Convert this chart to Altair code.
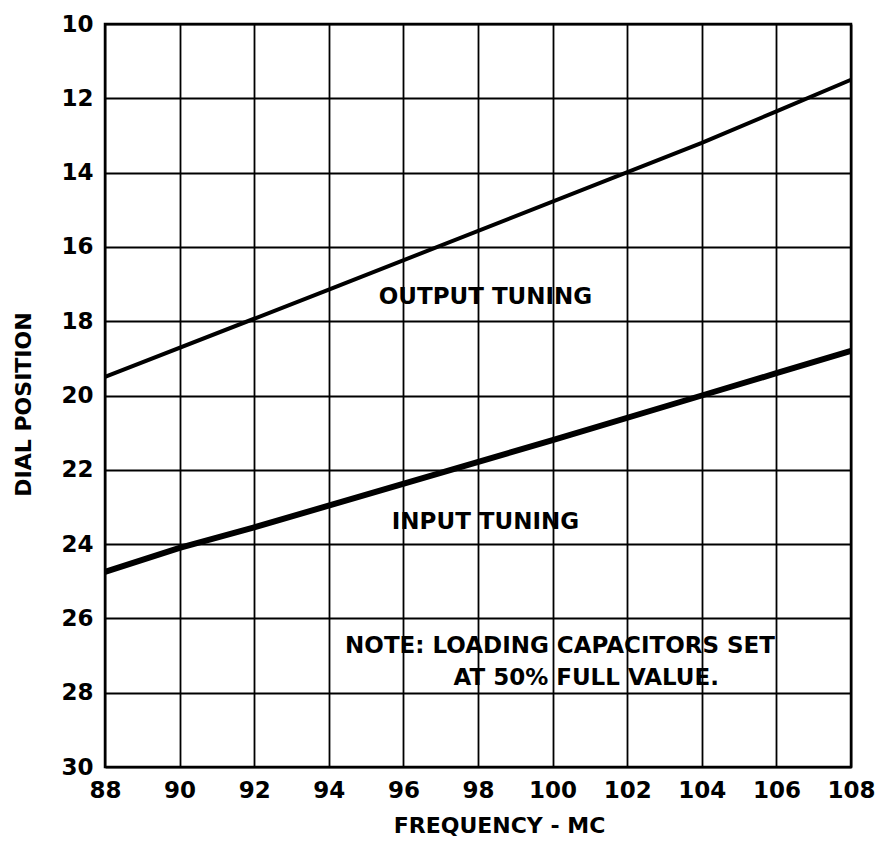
import altair as alt
import pandas as pd

# Axis ticks
freq_ticks = list(range(88, 109, 2))
dial_ticks = list(range(10, 31, 2))

# Curves
output_freq = [88, 94, 104, 106, 108]
output_dial = [19.5, 17.15, 13.2, 12.35, 11.5]

input_freq = [88, 90, 92, 100, 104, 106, 108]
input_dial = [24.75, 24.1, 23.55, 21.2, 20.0, 19.4, 18.8]

# Annotations
label_text = ["OUTPUT TUNING", "INPUT TUNING",
              "NOTE: LOADING CAPACITORS SET", "AT 50% FULL VALUE."]
label_freq = [98.2, 98.2, 100.2, 100.9]
label_dial = [17.35, 23.4, 26.75, 27.6]

FONT = "DejaVu Sans"

df_out = pd.DataFrame({"freq": output_freq, "dial": output_dial})
df_in = pd.DataFrame({"freq": input_freq, "dial": input_dial})
df_txt = pd.DataFrame({"freq": label_freq, "dial": label_dial, "txt": label_text})

xscale = alt.Scale(domain=[88, 108], nice=False, zero=False)
yscale = alt.Scale(domain=[10, 30], reverse=True, nice=False, zero=False)

x_enc = alt.X("freq:Q", scale=xscale,
              axis=alt.Axis(values=freq_ticks, title="FREQUENCY - MC",
                            labelFlush=False, labelOverlap=False,
                            titleX=394, titleY=58, titleAlign="center",
                            titleBaseline="middle"))
y_enc = alt.Y("dial:Q", scale=yscale,
              axis=alt.Axis(values=dial_ticks, title="DIAL POSITION",
                            labelOverlap=False,
                            titleX=-82, titleY=380, titleAlign="center",
                            titleBaseline="middle", titleAngle=270))

out_line = alt.Chart(df_out).mark_line(color="black", strokeWidth=4).encode(
    x=x_enc, y=y_enc, order="freq:Q")
in_line = alt.Chart(df_in).mark_line(color="black", strokeWidth=6).encode(
    x="freq:Q", y="dial:Q", order="freq:Q")
labels = alt.Chart(df_txt).mark_text(
    font=FONT, fontSize=23, fontWeight="bold", color="black",
    align="center", baseline="middle").encode(
    x="freq:Q", y="dial:Q", text="txt:N")

chart = alt.layer(out_line, in_line, labels).properties(
    width=746, height=743,
    autosize=alt.AutoSizeParams(type="none"),
    padding={"left": 97, "top": 16, "right": 27, "bottom": 80},
    background="white",
).configure_view(
    stroke="black", strokeWidth=2.5
).configure_axis(
    grid=True, gridColor="black", gridWidth=1.8, gridOpacity=1,
    domain=False, ticks=False,
    labelFont=FONT, labelFontSize=23, labelFontWeight="bold", labelColor="black",
    labelPadding=12,
    titleFont=FONT, titleFontSize=22, titleFontWeight="bold", titleColor="black",
)

chart.save("out.html", embed_options={"renderer": "svg", "actions": False})
